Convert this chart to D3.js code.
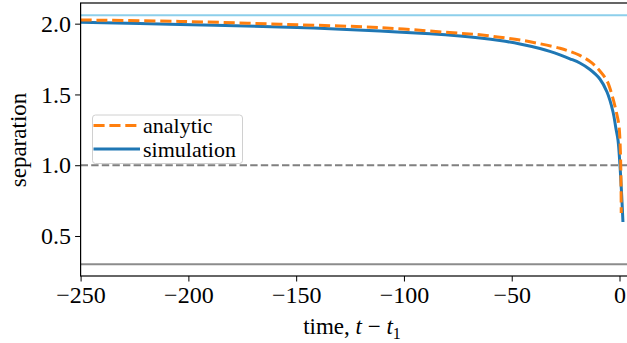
<!DOCTYPE html>
<html><head><meta charset="utf-8">
<script src="https://cdn.jsdelivr.net/npm/d3@7"></script>
<style>body{margin:0;background:#fff}svg{display:block}</style>
</head><body><svg id="c" width="627" height="343"></svg>
<script>
const xTicks = [-250, -200, -150, -100, -50, 0];
const yTicks = [0.5, 1.0, 1.5, 2.0];
const simT   = [-250, -203.9, -157.5, -134.3, -111.1, -87.9, -74.0, -64.7, -55.5, -46.2, -36.9, -32.3, -27.6, -23.0, -18.4, -13.7, -9.1, -5.8, -3.0, -1.7, -0.7, 0.2, 1.0, 1.6];
const simSep = [2.010, 1.994, 1.977, 1.964, 1.948, 1.929, 1.913, 1.899, 1.881, 1.857, 1.825, 1.804, 1.779, 1.752, 1.722, 1.676, 1.609, 1.517, 1.376, 1.263, 1.178, 1.002, 0.790, 0.599];
const anaT   = [-250, -203.9, -157.5, -111.1, -74.0, -64.7, -55.5, -46.2, -36.9, -27.6, -23.0, -18.4, -12.8, -9.1, -5.8, -3.5, -1.7, -0.3, 0.3, 0.65, 0.8];
const anaSep = [2.026, 2.016, 1.996, 1.972, 1.932, 1.922, 1.904, 1.885, 1.858, 1.826, 1.804, 1.776, 1.723, 1.666, 1.596, 1.497, 1.391, 1.285, 1.143, 0.931, 0.663];
const refLines = [
  {value: 2.06, color: "#8dcfeb", dash: null, width: 2},
  {value: 1.0, color: "#808080", dash: "7.4,3.2", width: 2},
  {value: 0.3, color: "#8c8c8c", dash: null, width: 2}
];
const seriesNames = ["analytic", "simulation"];
const FONT = "'Liberation Serif', 'Times New Roman', serif";

const svg = d3.select("#c");
const L = 80.6, R = 628, T = 3, B = 276;
const x = d3.scaleLinear().domain([-250, 3.94]).range([L, R]);
const y = d3.scaleLinear().domain([0.2174, 2.146]).range([B, T]);

refLines.forEach(r => {
  svg.append("line").attr("x1", L).attr("x2", R).attr("y1", y(r.value)).attr("y2", y(r.value))
    .attr("stroke", r.color).attr("stroke-width", r.width).attr("stroke-dasharray", r.dash);
});

const sim = simT.map((t, i) => [t, simSep[i]]);
const ana = anaT.map((t, i) => [t, anaSep[i]]);
const lineC = d3.line().x(d => x(d[0])).y(d => y(d[1])).curve(d3.curveCatmullRom.alpha(0.5));
svg.append("path").attr("d", lineC(sim)).attr("fill", "none").attr("stroke", "#1f77b4").attr("stroke-width", 3);
svg.append("path").attr("d", lineC(ana)).attr("fill", "none").attr("stroke", "#ff7f0e").attr("stroke-width", 3).attr("stroke-dasharray", "11.1,4.8");

const xa = svg.append("g").attr("transform", `translate(0,${B})`)
  .call(d3.axisBottom(x).tickValues(xTicks).tickSize(5.5).tickPadding(4).tickFormat(d => d < 0 ? "\u2212" + Math.abs(d) : d));
const ya = svg.append("g").attr("transform", `translate(${L},0)`)
  .call(d3.axisLeft(y).tickValues(yTicks).tickSize(5.5).tickPadding(4).tickFormat(d3.format(".1f")));
[xa, ya].forEach(g => {
  g.attr("font-family", null).attr("font-size", null);
  g.select(".domain").remove();
  g.selectAll("line").attr("stroke", "#000").attr("stroke-width", 1);
  g.selectAll("text").style("font-size", "24px").style("font-family", FONT).attr("fill", "#000");
});
svg.append("rect").attr("x", L).attr("y", T).attr("width", R - L).attr("height", B - T)
  .attr("fill", "none").attr("stroke", "#000").attr("stroke-width", 1.2);

svg.append("text").attr("transform", "translate(26,140) rotate(-90)").attr("text-anchor", "middle")
  .style("font-size", "23px").style("font-family", FONT).text("separation");
const xl = svg.append("text").attr("x", 352).attr("y", 334).attr("text-anchor", "middle")
  .style("font-size", "23px").style("font-family", FONT);
xl.append("tspan").text("time, ");
xl.append("tspan").style("font-style", "italic").text("t");
xl.append("tspan").text(" \u2212 ");
xl.append("tspan").style("font-style", "italic").text("t");
xl.append("tspan").style("font-size", "16px").attr("dy", 5).text("1");

const lg = svg.append("g");
lg.append("rect").attr("x", 92.5).attr("y", 115).attr("width", 150).attr("height", 48.5).attr("rx", 3)
  .attr("fill", "#fff").attr("fill-opacity", 0.8).attr("stroke", "#d0d0d0").attr("stroke-width", 1);
const lgItems = [
  {name: seriesNames[0], color: "#ff7f0e", dash: "11.1,4.8", yy: 125.5},
  {name: seriesNames[1], color: "#1f77b4", dash: null, yy: 149}
];
lgItems.forEach(it => {
  lg.append("line").attr("x1", 93.5).attr("x2", 140).attr("y1", it.yy).attr("y2", it.yy)
    .attr("stroke", it.color).attr("stroke-width", 3).attr("stroke-dasharray", it.dash);
  lg.append("text").attr("x", 143).attr("y", it.yy + 7.5).style("font-size", "22px").style("font-family", FONT).text(it.name);
});
</script></body></html>
